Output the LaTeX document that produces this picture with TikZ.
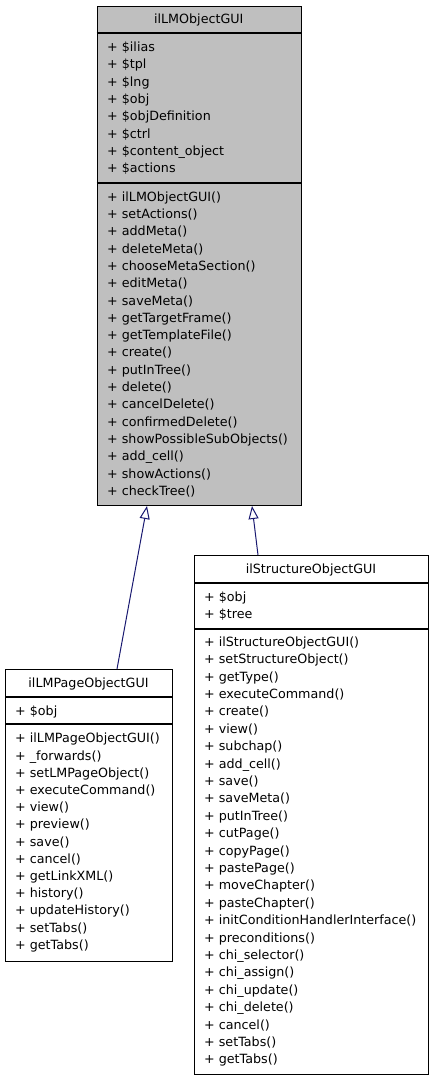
\documentclass[tikz,border=0pt]{standalone}
\usepackage{fontspec}
\setmainfont{DejaVu Sans}
\usetikzlibrary{arrows.meta,calc}
\definecolor{edgeblue}{HTML}{191970}
\definecolor{boxgray}{HTML}{BFBFBF}
\begin{document}
\begin{tikzpicture}[x=1pt,y=1pt,
  classbox/.style={draw=black, line width=1pt, inner sep=0pt, anchor=north west},
  sepline/.style={draw=black, line width=1.6pt},
  member/.style={anchor=base west, inner sep=0pt, font=\fontsize{12.7}{15}\selectfont},
  classtitle/.style={anchor=base, inner sep=0pt, font=\fontsize{12.7}{15}\selectfont},
  inherit/.style={draw=edgeblue, line width=1pt, -{Triangle[open, length=13pt, width=10pt]}}]
\useasboundingbox (0,0) rectangle (432,-1080);

% ---------- ilLMObjectGUI ----------
\node[classbox, fill=boxgray, minimum width=204.5pt, minimum height=499.5pt] (lm) at (96.5,-5.5) {};
\draw[sepline] ([yshift=-27.5pt]lm.north west) -- ([yshift=-27.5pt]lm.north east);
\draw[sepline] ([yshift=-177.5pt]lm.north west) -- ([yshift=-177.5pt]lm.north east);
\node[classtitle] (lmt) at (198.75,-23.5) {ilLMObjectGUI};
\foreach \t [count=\i from 0] in {+ \$ilias, + \$tpl, + \$lng, + \$obj, + \$objDefinition, + \$ctrl, + \$content\_object, + \$actions}
  \node[member] (lma\i) at (107,{-(51.5+17.3*\i)}) {\t};
\foreach \t [count=\i from 0] in {+ ilLMObjectGUI(), + setActions(), + addMeta(), + deleteMeta(), + chooseMetaSection(), + editMeta(), + saveMeta(), + getTargetFrame(), + getTemplateFile(), + create(), + putInTree(), + delete(), + cancelDelete(), + confirmedDelete(), + showPossibleSubObjects(), + add\_cell(), + showActions(), + checkTree()}
  \node[member] (lmm\i) at (107,{-(201.2+17.3*\i)}) {\t};

% ---------- ilLMPageObjectGUI ----------
\node[classbox, fill=white, minimum width=167pt, minimum height=292pt] (pg) at (5,-669) {};
\draw[sepline] ([yshift=-28pt]pg.north west) -- ([yshift=-28pt]pg.north east);
\draw[sepline] ([yshift=-55pt]pg.north west) -- ([yshift=-55pt]pg.north east);
\node[classtitle] (pgt) at (88.5,-687.5) {ilLMPageObjectGUI};
\node[member] (pga0) at (15,-715.2) {+ \$obj};
\foreach \t [count=\i from 0] in {+ ilLMPageObjectGUI(), + \_forwards(), + setLMPageObject(), + executeCommand(), + view(), + preview(), + save(), + cancel(), + getLinkXML(), + history(), + updateHistory(), + setTabs(), + getTabs()}
  \node[member] (pgm\i) at (15,{-(742.8+17.2*\i)}) {\t};

% ---------- ilStructureObjectGUI ----------
\node[classbox, fill=white, minimum width=234pt, minimum height=519pt] (st) at (194,-555) {};
\draw[sepline] ([yshift=-28pt]st.north west) -- ([yshift=-28pt]st.north east);
\draw[sepline] ([yshift=-74pt]st.north west) -- ([yshift=-74pt]st.north east);
\node[classtitle] (stt) at (311,-573.5) {ilStructureObjectGUI};
\node[member] (sta0) at (204,-601.2) {+ \$obj};
\node[member] (sta1) at (204,-618.5) {+ \$tree};
\foreach \t [count=\i from 0] in {+ ilStructureObjectGUI(), + setStructureObject(), + getType(), + executeCommand(), + create(), + view(), + subchap(), + add\_cell(), + save(), + saveMeta(), + putInTree(), + cutPage(), + copyPage(), + pastePage(), + moveChapter(), + pasteChapter(), + initConditionHandlerInterface(), + preconditions(), + chi\_selector(), + chi\_assign(), + chi\_update(), + chi\_delete(), + cancel(), + setTabs(), + getTabs()}
  \node[member] (stm\i) at (204,{-(646.2+17.4*\i)}) {\t};

% ---------- inheritance ----------
\draw[inherit] ([xshift=112pt]pg.north west) -- ([xshift=50.5pt]lm.south west);
\draw[inherit] ([xshift=64pt]st.north west) -- ([xshift=155.5pt]lm.south west);
\end{tikzpicture}
\end{document}
